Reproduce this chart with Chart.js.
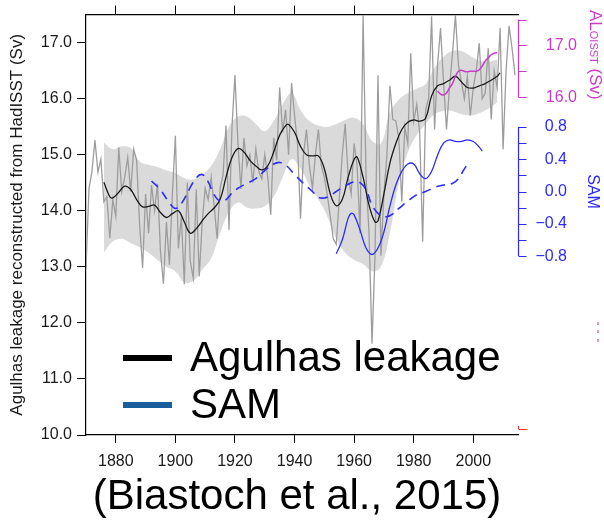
<!DOCTYPE html>
<html><head><meta charset="utf-8">
<script src="https://cdn.jsdelivr.net/npm/chart.js@4"></script>
<style>html,body{margin:0;padding:0;background:#fff}#wrap{width:604px;height:523px}</style>
</head><body><div id="wrap"><canvas id="c" width="604" height="523"></canvas></div>
<script>
// ---------- data ----------
const xTicks = [1880, 1900, 1920, 1940, 1960, 1980, 2000];
const yTicks = [10, 11, 12, 13, 14, 15, 16, 17];
const samTickMarks = [-0.8, -0.6, -0.4, -0.2, 0, 0.2, 0.4, 0.6, 0.8];
const samTickLabels = [-0.8, -0.4, 0, 0.4, 0.8];
const alTickMarks = [16.0, 16.5, 17.0, 17.5];
const alTickLabels = [16.0, 17.0];

const grayStartYear = 1870;
const grayValues = [
  12.98, 14.39, 14.7, 15.26, 14.69, 14.92, 14.16, 14.25, 13.51, 14.2,
  13.9, 15.13, 14.34, 14.6, 14.95, 14.34, 15.1, 14.9, 13.75, 12.98,
  14.3, 13.6, 14.46, 14.0, 14.48, 13.27, 12.7, 13.8, 13.04, 14.3,
  15.34, 13.33, 13.9, 12.69, 14.5, 13.1, 12.8, 14.38, 12.83, 13.8,
  14.4, 14.2, 14.6, 14.1, 13.5, 14.4, 14.64, 15.52, 13.66, 15.5,
  16.42, 15.2, 14.39, 15.3, 14.8, 15.0, 14.5, 15.1, 14.7, 14.57,
  15.0, 14.6, 13.93, 15.3, 14.9, 16.2, 15.4, 15.8, 15.0, 16.28,
  15.7, 15.2, 13.86, 15.0, 15.45, 14.8, 14.4, 15.0, 15.45, 14.8,
  14.6, 14.28, 13.9, 13.5, 13.4, 14.2, 15.0, 15.55, 14.6, 14.3,
  15.2, 14.8, 13.6, 17.49, 14.6, 13.6, 11.63, 13.2, 16.42, 13.2,
  14.3, 15.0, 16.23, 15.63, 15.6, 15.3, 14.16, 15.5, 15.2, 16.81,
  15.6, 15.9, 15.4, 13.45, 15.8, 16.0, 17.47, 15.45, 16.6, 17.26,
  16.3, 15.45, 16.2, 16.8, 17.49, 16.6, 16.3, 16.0, 16.4, 15.7,
  16.2, 16.5, 16.99, 16.0, 16.1, 16.9, 15.63, 16.5, 16.2, 17.26,
  15.1, 16.5, 17.3, 16.9, 16.42
];

const bandYears = [1876,1879,1882,1885,1888,1891,1894,1897,1900,1903,1906,1909,1912,1915,1918,1921,1924,1927,1930,1933,1936,1939,1942,1945,1948,1951,1954,1957,1960,1963,1966,1969,1972,1975,1978,1981,1984,1987,1990,1993,1996,1999,2002,2005,2008];
const bandUpper = [15.22,15.1,15.15,15.12,14.88,14.82,14.78,14.72,14.68,14.58,14.56,14.65,14.8,15.1,15.5,15.68,15.68,15.55,15.42,15.6,15.9,16.1,15.8,15.6,15.52,15.5,15.55,15.62,15.66,15.55,15.25,15.2,15.75,15.98,16.1,16.18,16.26,16.55,16.75,16.85,16.85,16.76,16.68,16.66,16.7];
const bandLower = [13.25,13.45,13.5,13.42,13.35,13.25,13.12,13.0,12.92,12.72,12.75,12.95,13.15,13.6,13.98,14.15,14.06,14.04,14.08,14.25,14.6,14.92,14.75,14.45,14.2,13.9,13.5,13.25,13.12,13.05,12.92,13.0,13.6,14.5,15.04,15.35,15.55,15.72,15.78,15.78,15.72,15.7,15.74,15.82,15.93];

const blackYears = [1876,1878,1879,1881,1883,1885,1887,1889,1891,1893,1895,1897,1899,1901,1903,1905,1907,1909,1911,1913,1915,1917,1919,1921,1923,1925,1927,1929,1931,1933,1935,1937,1938,1940,1942,1944,1946,1948,1950,1952,1954,1956,1958,1960,1961,1963,1965,1967,1968,1970,1972,1974,1976,1978,1980,1982,1984,1986,1988,1990,1992,1994,1996,1998,2000,2002,2004,2006,2008,2009];
const blackValues = [14.51,14.25,14.23,14.33,14.44,14.38,14.2,14.07,14.08,14.1,13.97,13.88,13.95,14.0,13.8,13.6,13.68,13.82,13.95,14.05,14.2,14.6,14.95,15.11,15.05,14.9,14.8,14.73,14.8,15.05,15.35,15.52,15.54,15.4,15.15,15.0,14.98,14.98,14.75,14.3,14.09,14.2,14.6,14.92,14.96,14.6,14.1,13.8,13.82,14.3,14.85,15.2,15.45,15.58,15.62,15.6,15.65,16.05,16.23,16.27,16.33,16.4,16.3,16.2,16.19,16.23,16.27,16.33,16.4,16.46];

const samDashedYears = [1892,1895,1898,1900,1902,1905,1907,1909,1911,1913,1915,1917,1919,1921,1924,1927,1930,1933,1935,1937,1940,1943,1946,1948,1950,1952,1954,1957,1960,1962,1964,1966,1968,1970,1972,1975,1978,1981,1984,1987,1990,1993,1995,1997,1998];
const samDashedValues = [0.13,0.02,-0.14,-0.21,-0.15,0.05,0.17,0.21,0.12,-0.04,-0.12,-0.1,-0.02,0.04,0.1,0.16,0.26,0.34,0.36,0.33,0.21,0.1,0.0,-0.07,-0.08,-0.05,0.0,0.07,0.12,0.11,0.02,-0.17,-0.27,-0.31,-0.3,-0.21,-0.12,-0.04,0.0,0.05,0.08,0.1,0.16,0.28,0.33];

const samYears = [1954,1956,1958,1959,1960,1962,1964,1966,1968,1970,1972,1974,1976,1978,1980,1982,1984,1986,1988,1990,1992,1994,1996,1998,2000,2002,2003];
const samValues = [-0.77,-0.6,-0.33,-0.27,-0.29,-0.48,-0.7,-0.78,-0.7,-0.5,-0.18,0.08,0.25,0.34,0.34,0.22,0.16,0.25,0.45,0.6,0.64,0.62,0.62,0.64,0.62,0.55,0.5];

const alYears = [1988,1989,1990,1991,1992,1993,1994,1995,1996,1997,1998,1999,2000,2001,2002,2003,2004,2005,2006,2007,2008];
const alValues = [16.12,16.06,16.04,16.08,16.18,16.26,16.4,16.5,16.52,16.5,16.49,16.5,16.5,16.5,16.53,16.6,16.7,16.76,16.82,16.85,16.86];

const legendLabels = ['Agulhas leakage', 'SAM'];
const yAxisTitle = 'Agulhas leakage reconstructed from HadISST (Sv)';
const samTitle = 'SAM';
const alTitleParts = ['AL', 'OISST', ' (Sv)'];
const captionText = '(Biastoch et al., 2015)';

// ---------- styles ----------
const FONT = '"Liberation Sans", Arial, Helvetica, sans-serif';
const BLUE = '#2b2bff';
const MAGENTA = '#c93cc9';
const LEGEND_BLUE = '#1b5e9e';
const TEXT = '#1a1a1a';

const pts = (xs, ys) => xs.map((x, i) => ({x: x, y: ys[i]}));
const grayYears = grayValues.map((_, i) => grayStartYear + i);

const decor = {
  id: 'decor',
  afterDraw(chart) {
    const ctx = chart.ctx, ca = chart.chartArea;
    const sSam = chart.scales.ySAM, sAl = chart.scales.yAL;
    const ax = ca.right + 0.5;
    ctx.save();
    // AL_OISST axis
    ctx.strokeStyle = MAGENTA; ctx.lineWidth = 1.2;
    ctx.beginPath();
    ctx.moveTo(ax, sAl.getPixelForValue(alTickMarks[alTickMarks.length - 1]));
    ctx.lineTo(ax, sAl.getPixelForValue(alTickMarks[0]));
    alTickMarks.forEach(v => { const y = Math.round(sAl.getPixelForValue(v)) + 0.5; ctx.moveTo(ax, y); ctx.lineTo(ax + 8, y); });
    ctx.stroke();
    ctx.fillStyle = MAGENTA; ctx.font = '16px ' + FONT; ctx.textAlign = 'right'; ctx.textBaseline = 'middle';
    alTickLabels.forEach(v => ctx.fillText(v.toFixed(1), 577, sAl.getPixelForValue(v)));
    // SAM axis
    ctx.strokeStyle = BLUE;
    ctx.beginPath();
    ctx.moveTo(ax, sSam.getPixelForValue(samTickMarks[samTickMarks.length - 1]));
    ctx.lineTo(ax, sSam.getPixelForValue(samTickMarks[0]));
    samTickMarks.forEach(v => { const y = Math.round(sSam.getPixelForValue(v)) + 0.5; ctx.moveTo(ax, y); ctx.lineTo(ax + 8, y); });
    ctx.stroke();
    ctx.fillStyle = BLUE;
    samTickLabels.forEach(v => ctx.fillText((v < 0 ? '\u2212' : '') + Math.abs(v).toFixed(1), 567, sSam.getPixelForValue(v)));
    // rotated SAM title
    ctx.save();
    ctx.translate(592, sSam.getPixelForValue(0));
    ctx.rotate(Math.PI / 2);
    ctx.textAlign = 'center'; ctx.textBaseline = 'middle'; ctx.font = '16px ' + FONT;
    ctx.fillText(samTitle, 0, 0);
    ctx.restore();
    // rotated AL_OISST (Sv) title
    ctx.save();
    ctx.fillStyle = MAGENTA;
    ctx.translate(590, 10);
    ctx.rotate(Math.PI / 2);
    ctx.textAlign = 'left'; ctx.textBaseline = 'alphabetic';
    let xx = 0;
    ctx.font = '17px ' + FONT; ctx.fillText(alTitleParts[0], xx, 0); xx += ctx.measureText(alTitleParts[0]).width;
    ctx.font = '11px ' + FONT; ctx.fillText(alTitleParts[1], xx, 0); xx += ctx.measureText(alTitleParts[1]).width;
    ctx.font = '17px ' + FONT; ctx.fillText(alTitleParts[2], xx, 0);
    ctx.restore();
    // small red axis remnant and pink dots
    ctx.strokeStyle = '#ff3030'; ctx.lineWidth = 1;
    ctx.beginPath();
    ctx.moveTo(ax, ca.bottom - 9); ctx.lineTo(ax, ca.bottom - 5.5); ctx.lineTo(ax + 9, ca.bottom - 5.5);
    ctx.stroke();
    ctx.fillStyle = '#ff8fb0';
    [322, 330, 339].forEach(y => ctx.fillRect(597, y, 2, 3));
    // legend
    const lg = [{c: '#000000', y: 358}, {c: LEGEND_BLUE, y: 405}];
    ctx.font = '42px ' + FONT; ctx.textAlign = 'left'; ctx.textBaseline = 'alphabetic';
    legendLabels.forEach((t, i) => {
      ctx.strokeStyle = lg[i].c; ctx.lineWidth = 6;
      ctx.beginPath(); ctx.moveTo(123, lg[i].y); ctx.lineTo(172, lg[i].y); ctx.stroke();
      ctx.fillStyle = '#000';
      ctx.fillText(t, 190, lg[i].y + 13);
    });
    // caption
    ctx.textAlign = 'center';
    ctx.fillText(captionText, 297, 509);
    ctx.restore();
  }
};

const tickList = arr => (s => { s.ticks = arr.map(v => ({value: v})); });

new Chart(document.getElementById('c'), {
  type: 'line',
  data: {
    datasets: [
      {label: 'AL OISST', data: pts(alYears, alValues), yAxisID: 'yAL', borderColor: MAGENTA, borderWidth: 1.5, pointRadius: 0, tension: 0.4, fill: false},
      {label: 'SAM', data: pts(samYears, samValues), yAxisID: 'ySAM', borderColor: BLUE, borderWidth: 1.3, pointRadius: 0, tension: 0.4, fill: false},
      {label: 'SAM reconstructed', data: pts(samDashedYears, samDashedValues), yAxisID: 'ySAM', borderColor: BLUE, borderWidth: 1.6, borderDash: [9, 6], pointRadius: 0, tension: 0.4, fill: false},
      {label: 'Agulhas leakage', data: pts(blackYears, blackValues), yAxisID: 'y', borderColor: '#1a1a1a', borderWidth: 1.3, pointRadius: 0, tension: 0.4, fill: false},
      {label: 'annual', data: pts(grayYears, grayValues), yAxisID: 'y', borderColor: '#9d9d9d', borderWidth: 1.3, pointRadius: 0, tension: 0, fill: false},
      {label: 'upper', data: pts(bandYears, bandUpper), yAxisID: 'y', borderColor: 'rgba(0,0,0,0)', borderWidth: 0, pointRadius: 0, tension: 0.4, fill: false},
      {label: 'lower', data: pts(bandYears, bandLower), yAxisID: 'y', borderColor: 'rgba(0,0,0,0)', borderWidth: 0, pointRadius: 0, tension: 0.4, fill: '-1', backgroundColor: '#dadada'}
    ]
  },
  options: {
    responsive: false, animation: false, devicePixelRatio: 1,
    layout: {padding: {left: 0, right: 86, top: 0, bottom: 0}},
    plugins: {legend: {display: false}, tooltip: {enabled: false}, filler: {drawTime: 'beforeDatasetsDraw'}},
    scales: {
      x: {
        type: 'linear', position: 'bottom', min: 1870, max: 2015,
        afterBuildTicks: tickList(xTicks),
        ticks: {font: {family: FONT, size: 16}, color: TEXT, padding: 9, maxRotation: 0, autoSkip: false, callback: v => String(v)},
        grid: {drawOnChartArea: false, tickLength: 8, color: '#000', tickWidth: 1},
        border: {color: '#000', width: 1.2},
        afterFit: s => { s.height = 88; }
      },
      xTop: {
        type: 'linear', position: 'top', min: 1870, max: 2015,
        afterBuildTicks: tickList(xTicks),
        ticks: {display: false},
        grid: {drawOnChartArea: false, tickLength: 9, color: '#000', tickWidth: 1},
        border: {color: '#000', width: 1.2},
        afterFit: s => { s.height = 12; }
      },
      y: {
        position: 'left', min: 10, max: 17.5,
        afterBuildTicks: tickList(yTicks),
        ticks: {font: {family: FONT, size: 16}, color: TEXT, padding: 5, callback: v => Number(v).toFixed(1)},
        grid: {drawOnChartArea: false, tickLength: 9, color: '#000', tickWidth: 1},
        border: {color: '#000', width: 1.2},
        title: {display: true, text: yAxisTitle, color: TEXT, font: {family: FONT, size: 17}, padding: {top: 7, bottom: 0}},
        afterFit: s => { s.width = 86; }
      },
      ySAM: {display: false, position: 'right', min: -3.0154, max: 2.1908},
      yAL: {display: false, position: 'right', min: 9.462, max: 17.597}
    }
  },
  plugins: [decor]
});
</script>
</body></html>
